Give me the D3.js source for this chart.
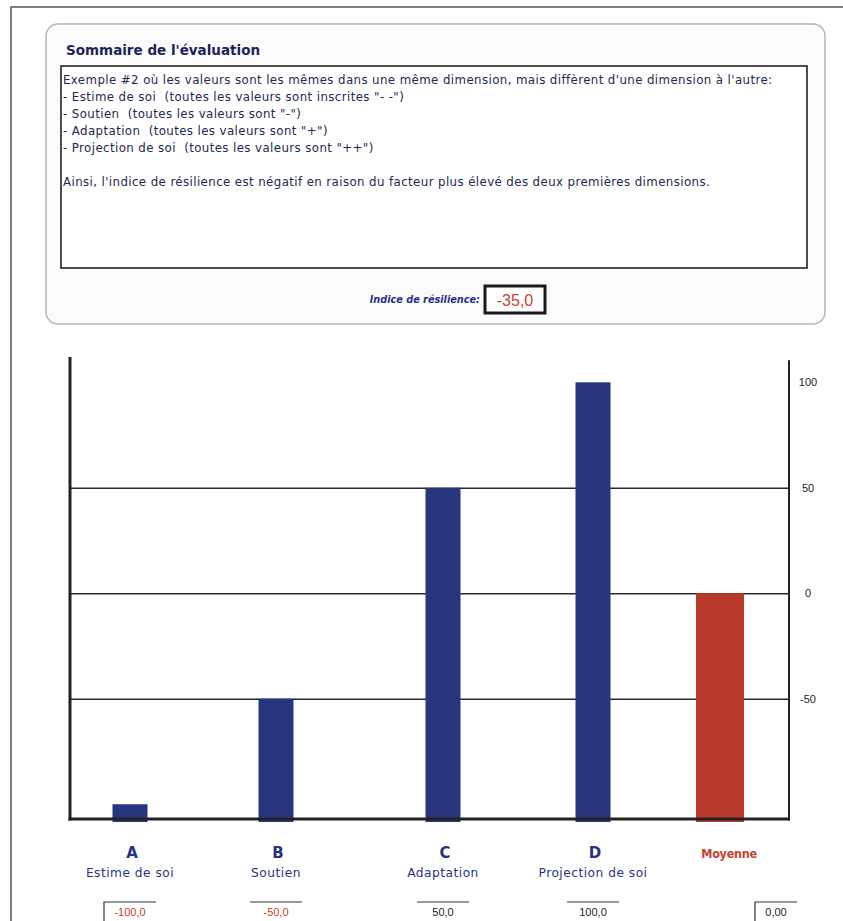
<!DOCTYPE html>
<html lang="fr">
<head>
<meta charset="utf-8">
<title>Sommaire de l'évaluation</title>
<script src="https://cdn.jsdelivr.net/npm/d3@7"></script>
<style>
  html, body { margin: 0; padding: 0; background: #fff; }
  svg { display: block; }
</style>
</head>
<body>
<svg id="chart" width="843" height="921"></svg>
<script>
// ---- data ----
const categories = ["A", "B", "C", "D", "Moyenne"];
const dimensionNames = ["Estime de soi", "Soutien", "Adaptation", "Projection de soi", ""];
const scores = [-100, -50, 50, 100, 0];
const yTickValues = [100, 50, 0, -50];
const gridValues = [50, 0, -50];
const resilienceIndex = -35.0;

const summaryTitle = "Sommaire de l'évaluation";
const summaryLines = [
  "Exemple #2 où les valeurs sont les mêmes dans une même dimension, mais diffèrent d'une dimension à l'autre:",
  "- Estime de soi  (toutes les valeurs sont inscrites \"- -\")",
  "- Soutien  (toutes les valeurs sont \"-\")",
  "- Adaptation  (toutes les valeurs sont \"+\")",
  "- Projection de soi  (toutes les valeurs sont \"++\")",
  "",
  "Ainsi, l'indice de résilience est négatif en raison du facteur plus élevé des deux premières dimensions."
];

// ---- styles ----
const NAVY = "#2a3282";
const BAR_BLUE = "#27367f";
const BAR_RED = "#b9392b";
const RED_TEXT = "#c8402f";
const HAND = "'Comic Sans MS', 'DejaVu Sans', sans-serif";
const HAND_NARROW = "'Comic Sans MS', 'DejaVu Sans Condensed', 'DejaVu Sans', sans-serif";
const PLAIN = "'Liberation Sans', Arial, sans-serif";

// French number formatting with a plain hyphen for negatives
const fr = d3.formatLocale({ decimal: ",", thousands: " ", grouping: [3], currency: ["", " €"], minus: "-" });
const fr1 = fr.format(".1f");
const fr2 = fr.format(".2f");
const frInt = fr.format("d");

const svg = d3.select("#chart");

// page frame
svg.append("path")
  .attr("d", "M11,921V7H843")
  .attr("fill", "none").attr("stroke", "#555").attr("stroke-width", 1.5);

// ---- summary panel ----
svg.append("rect")
  .attr("x", 46).attr("y", 24).attr("width", 779).attr("height", 300)
  .attr("rx", 12)
  .attr("fill", "#fbfbfc").attr("stroke", "#b8b4b4").attr("stroke-width", 1.5);

svg.append("text")
  .attr("x", 66).attr("y", 55)
  .attr("font-family", HAND).attr("font-size", 13.5).attr("font-weight", "bold")
  .attr("fill", "#1d2356")
  .text(summaryTitle);

svg.append("rect")
  .attr("x", 61).attr("y", 66).attr("width", 746).attr("height", 202)
  .attr("fill", "#fff").attr("stroke", "#222").attr("stroke-width", 1.6);

svg.append("g").selectAll("text")
  .data(summaryLines)
  .join("text")
  .attr("x", 63)
  .attr("y", (d, i) => 84 + i * 17)
  .attr("font-family", HAND).attr("font-size", 11.8)
  .attr("letter-spacing", 0.4)
  .style("white-space", "pre")
  .attr("fill", "#23284f")
  .text(d => d);

// resilience index
svg.append("text")
  .attr("x", 480).attr("y", 303)
  .attr("text-anchor", "end")
  .attr("font-family", HAND_NARROW).attr("font-size", 10.8)
  .attr("font-weight", "bold").attr("font-style", "italic")
  .attr("fill", NAVY)
  .text("Indice de résilience:");

svg.append("rect")
  .attr("x", 485).attr("y", 286).attr("width", 60).attr("height", 27)
  .attr("fill", "#fff").attr("stroke", "#1a1a1a").attr("stroke-width", 3);

svg.append("text")
  .attr("x", 515).attr("y", 305.5)
  .attr("text-anchor", "middle")
  .attr("font-family", PLAIN).attr("font-size", 16)
  .attr("fill", RED_TEXT)
  .text(fr1(resilienceIndex));

// ---- bar chart ----
const left = 70, right = 789;
const y = d3.scaleLinear().domain([-107, 112]).range([819, 357]);
const x = d3.scaleOrdinal().domain(categories).range([130, 276, 443, 593, 720]);
const barWidth = c => (c === "Moyenne" ? 48 : 35);

// horizontal gridlines
svg.append("g")
  .attr("transform", `translate(${left},0)`)
  .call(d3.axisLeft(y).tickValues(gridValues).tickSize(-(right - left)).tickFormat(""))
  .call(g => g.select(".domain").remove())
  .call(g => g.selectAll(".tick line").attr("stroke", "#2a2a2a").attr("stroke-width", 1.4));

// right value axis labels
svg.append("g")
  .attr("transform", `translate(${right},0)`)
  .call(d3.axisRight(y).tickValues(yTickValues).tickSize(0).tickFormat(frInt))
  .call(g => g.select(".domain").remove())
  .call(g => g.selectAll(".tick text")
    .attr("x", 19).attr("dy", "0.32em")
    .attr("text-anchor", "middle")
    .attr("font-family", PLAIN).attr("font-size", 11)
    .attr("fill", "#222"));

// bars, rising from the floor of the chart
const rows = categories.map((c, i) => ({ cat: c, name: dimensionNames[i], value: scores[i] }));
svg.append("g").selectAll("rect")
  .data(rows)
  .join("rect")
  .attr("x", d => x(d.cat) - barWidth(d.cat) / 2)
  .attr("width", d => barWidth(d.cat))
  .attr("y", d => y(d.value))
  .attr("height", d => y.range()[0] + 3 - y(d.value))
  .attr("fill", d => (d.cat === "Moyenne" ? BAR_RED : BAR_BLUE));

// frame axes
svg.append("line")
  .attr("x1", left).attr("x2", left).attr("y1", y(112)).attr("y2", y(-107) + 1.5)
  .attr("stroke", "#222").attr("stroke-width", 3);
svg.append("line")
  .attr("x1", right).attr("x2", right).attr("y1", y(110.5)).attr("y2", y(-107) + 1.5)
  .attr("stroke", "#222").attr("stroke-width", 2);
svg.append("line")
  .attr("x1", left - 1.5).attr("x2", right + 1).attr("y1", y(-107)).attr("y2", y(-107))
  .attr("stroke", "#222").attr("stroke-width", 3);

// category labels
const labels = svg.append("g").selectAll("g")
  .data(rows)
  .join("g")
  .attr("transform", d => `translate(${x(d.cat)},0)`);

labels.append("text")
  .attr("y", 858)
  .attr("text-anchor", "middle")
  .attr("font-family", d => (d.cat === "Moyenne" ? HAND_NARROW : HAND))
  .attr("font-weight", "bold")
  .attr("font-size", d => (d.cat === "Moyenne" ? 12.5 : 15))
  .attr("letter-spacing", d => (d.cat === "Moyenne" ? -0.3 : 0))
  .attr("fill", d => (d.cat === "Moyenne" ? RED_TEXT : NAVY))
  .attr("dx", d => (d.cat === "Moyenne" ? 9 : 2))
  .text(d => d.cat);

labels.append("text")
  .attr("y", 877)
  .attr("text-anchor", "middle")
  .attr("font-family", HAND).attr("font-size", 12.2)
  .attr("letter-spacing", 0.5)
  .attr("fill", NAVY)
  .text(d => d.name);

// score cells
const cells = labels.append("g")
  .attr("transform", d => `translate(${d.cat === "Moyenne" ? 56 : 0},0)`);

cells.append("path")
  .attr("d", (d, i) => {
    const w = d.cat === "Moyenne" ? 42 : 52;
    const sideLeft = (i === 0 || d.cat === "Moyenne");
    return sideLeft
      ? `M${-w / 2},921V902H${w / 2}`
      : `M${-w / 2},902H${w / 2}`;
  })
  .attr("fill", "none").attr("stroke", "#333").attr("stroke-width", 1.2);

cells.append("text")
  .attr("y", 916)
  .attr("text-anchor", "middle")
  .attr("font-family", PLAIN).attr("font-size", 11)
  .attr("fill", d => (d.value < 0 ? RED_TEXT : "#222"))
  .text(d => (d.cat === "Moyenne" ? fr2(d.value) : fr1(d.value)));
</script>
</body>
</html>
